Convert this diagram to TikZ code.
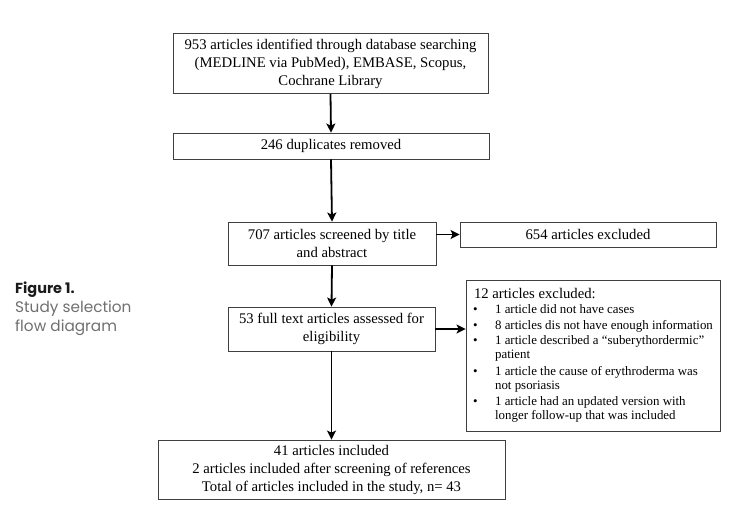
\documentclass[tikz,border=0pt]{standalone}
\usepackage{fontspec}
\setmainfont{Liberation Serif}
\newfontfamily\capfont{Poppins}
\usetikzlibrary{arrows.meta,calc}
\definecolor{capgray}{HTML}{707070}
\definecolor{capdark}{HTML}{1A1A1A}
\newcommand{\bul}{\makebox[22pt][l]{\textbullet}}
\begin{document}
\begin{tikzpicture}[x=1pt,y=-1pt,
  box/.style={draw=black!75,line width=0.8pt,inner sep=2pt,align=center,font=\fontsize{14.7}{18}\selectfont},
  arr/.style={line width=1.8pt,-{Stealth[length=9pt,width=9pt,inset=2pt]}}]
\useasboundingbox (0,0) rectangle (750,516);
\node[box,minimum width=315pt,minimum height=60pt] (b1) at (330.5,63.5)
  {953 articles identified through database searching\\(MEDLINE via PubMed), EMBASE, Scopus,\\Cochrane Library};
\node[box,minimum width=316pt,minimum height=26pt] (b2) at (331,146) {246 duplicates removed};
\node[box,minimum width=208pt,minimum height=43pt] (b3) at (332,243.5) {707 articles screened by title\\and abstract};
\node[box,minimum width=256pt,minimum height=25pt] (ex1) at (588,234.5) {654 articles excluded};
\node[box,minimum width=207pt,minimum height=44pt] (b4) at (331.5,329) {53 full text articles assessed for\\eligibility};
\node[box,minimum width=254pt,minimum height=151pt,align=left,font=\fontsize{12.9}{14}\selectfont] (ex2) at (593,355.5)
  {\hspace*{1pt}{\fontsize{14.7}{15}\selectfont 12 articles excluded:}\\[1.5pt]
   \bul 1 article did not have cases\\[1.5pt]
   \bul 8 articles dis not have enough information\\[1.5pt]
   \bul 1 article described a ``suberythordermic''\\
   \hspace*{22pt}patient\\[2.5pt]
   \bul 1 article the cause of erythroderma was\\
   \hspace*{22pt}not psoriasis\\[2.5pt]
   \bul 1 article had an updated version with\\
   \hspace*{22pt}longer follow-up that was included};
\node[box,minimum width=347pt,minimum height=59pt] (b5) at (331.5,469.5)
  {41 articles included\\2 articles included after screening of references\\Total of articles included in the study, n= 43};
\draw[arr] (b1.south) -- (b2.north);
\draw[arr] (b2.south) -- (b3.north);
\draw[arr] (b3.south) -- (b4.north);
\draw[arr] (b4.south) -- (b4.south |- b5.north);
\draw[arr] (b3.east |- ex1.west) -- (ex1.west);
\draw[arr] (b4.east) -- (b4.east -| ex2.west);
\node[anchor=north west,inner sep=0pt,align=left,font=\capfont\fontsize{15.3}{19}\selectfont] (cap) at (15,282)
  {{\color{capdark}\fontsize{14.5}{19}\selectfont\textbf{Figure 1.}}\\\color{capgray}Study selection\\\color{capgray}flow diagram};
\end{tikzpicture}
\end{document}
